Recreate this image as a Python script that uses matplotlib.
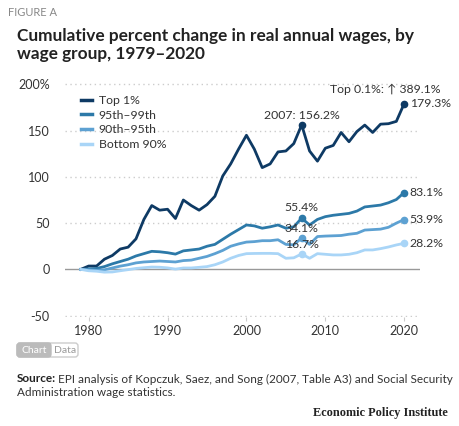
import matplotlib
matplotlib.use("Agg")
import numpy as np
from matplotlib import pyplot as plt
from matplotlib.patches import FancyBboxPatch, Rectangle
from matplotlib.transforms import IdentityTransform

years = list(range(1979, 2021))

top1 = [0, 3.6, 3.6, 11, 15, 22, 24, 33, 54, 69, 64, 65, 55, 75, 69, 64, 70, 79,
        101, 114, 130, 145, 130, 110, 114, 127, 128, 136, 156.2, 128, 117, 131,
        134, 148, 138, 149, 156, 148, 157, 157.5, 160, 179.3]
p95_99 = [0, 0.5, 1, 3, 6, 8.5, 11, 14.5, 17, 19.5, 19, 18, 16.5, 20, 21, 22, 25,
          27, 32.5, 38, 43, 48, 47, 44.5, 46, 48, 44.5, 46, 55.4, 48, 54, 57,
          58.5, 59.5, 60.5, 63, 67.5, 68.5, 69.5, 72, 75.5, 83.1]
p90_95 = [0, -0.5, -1, -0.5, 1.5, 3.5, 5, 7, 8, 8.5, 9, 8.5, 8, 9.5, 10, 12, 14,
          17, 20.5, 25, 27.5, 29.5, 30, 31, 31, 32, 27, 26.5, 34.1, 27, 35.5, 36,
          36.3, 36.6, 38, 39, 42.5, 43, 43.5, 45.5, 50, 53.9]
bottom90 = [0, -1.5, -2, -3, -2.8, -1.5, -0.3, 1, 1.8, 2.5, 2.3, 1.6, 0.3, 1.5,
            1.5, 2.2, 3, 5, 8, 12, 15, 17, 17.2, 17.3, 17.3, 17, 12, 12.5, 16.7,
            12, 17, 16.3, 15.6, 15.6, 16.3, 18, 21, 21, 22.4, 24.2, 26.4, 28.2]

series_names = ["Top 1%", "95th\u201399th", "90th\u201395th", "Bottom 90%"]
colors = ["#0e3a64", "#2c79a8", "#5da1d2", "#a9d5f7"]

y_ticks = [-50, 0, 50, 100, 150, 200]
y_tick_labels = ["-50", "0", "50", "100", "150", "200%"]
x_ticks = [1980, 1990, 2000, 2010, 2020]

W, H = 460, 426
plt.rcParams["font.family"] = ["Lato", "DejaVu Sans"]

fig = plt.figure(figsize=(W / 100, H / 100), dpi=100)
fig.patch.set_facecolor("white")


def fx(px):
    return px / W


def fy(py):
    return 1 - py / H


ax = fig.add_axes([fx(65), fy(317), fx(420) - fx(65), fy(83) - fy(317)])

all_series = [top1, p95_99, p90_95, bottom90]
for vals, name, c in zip(all_series, series_names, colors):
    ax.plot(years, vals, color=c, lw=2, label=name, zorder=3,
            solid_joinstyle="round")
    ax.plot([2007, 2020], [vals[years.index(2007)], vals[-1]], "o", color=c,
            ms=4.5, zorder=4, clip_on=False)

ax.set_xlim(1977, 2022)
ax.set_ylim(-51.5, 201.5)
ax.set_yticks(y_ticks)
ax.set_yticklabels(y_tick_labels)
ax.set_xticks(x_ticks)
for y in y_ticks:
    if y == 0:
        ax.axhline(0, color="#999999", lw=1, zorder=1)
    else:
        ax.axhline(y, color="#cccccc", lw=1, ls=(0, (1, 2.5)), zorder=1)

for s in ax.spines.values():
    s.set_visible(False)
ax.tick_params(axis="y", length=0, pad=11, labelsize=9, labelcolor="#333333")
ax.tick_params(axis="x", length=3, color="#cccccc", pad=3, labelsize=9,
               labelcolor="#333333")

leg = ax.legend(loc="upper left", bbox_to_anchor=(0.03, 0.97), frameon=False,
                fontsize=8.8, handlelength=0.9, handletextpad=0.6,
                labelspacing=0.3, borderaxespad=0)
for line in leg.get_lines():
    line.set_linewidth(2.5)
for t in leg.get_texts():
    t.set_color("#333333")

lab_kw = dict(fontsize=8.8, color="#333333", zorder=5)
# end labels
for vals in all_series:
    ax.annotate(f"{vals[-1]:.1f}%", (2020, vals[-1]), xytext=(4, 0),
                textcoords="offset points", va="center", ha="left", **lab_kw)
ax.annotate("Top 0.1%: \u2191 389.1%", (2020, top1[-1]), xytext=(-14, 10),
            textcoords="offset points", va="center", ha="center", **lab_kw)
ax.annotate("2007: 156.2%", (2007, top1[years.index(2007)]), xytext=(0, 3),
            textcoords="offset points", va="bottom", ha="center", **lab_kw)
for vals, dy in zip([p95_99, p90_95, bottom90], [7.5, 7, 6.5]):
    v = vals[years.index(2007)]
    ax.annotate(f"{v:.1f}%", (2007, v), xytext=(0, dy),
                textcoords="offset points", va="center", ha="center", **lab_kw)

# header
fig.text(fx(8), fy(13), "FIGURE A", fontsize=8, color="#888888", va="center")
fig.text(fx(17), fy(45), "Cumulative percent change in real annual wages, by\n"
         "wage group, 1979\u20132020", fontsize=12.4, fontweight="bold",
         color="#222222", va="center", linespacing=1.15)

# chart / data toggle
tr = IdentityTransform()
box = FancyBboxPatch((17, H - 357), 61, 14, boxstyle="round,pad=0,rounding_size=3",
                     transform=tr, facecolor="white", edgecolor="#cccccc", lw=1)
fig.patches.append(box)
chart_box = FancyBboxPatch((17, H - 357), 34, 14,
                           boxstyle="round,pad=0,rounding_size=3", transform=tr,
                           facecolor="#bbbbbb", edgecolor="#bbbbbb", lw=1)
fig.patches.append(chart_box)
fig.patches.append(Rectangle((45, H - 357), 6, 14, transform=tr,
                             facecolor="#bbbbbb", edgecolor="none"))
fig.text(fx(34), fy(350.5), "Chart", fontsize=7.5, color="white", ha="center",
         va="center")
fig.text(fx(65), fy(350.5), "Data", fontsize=7.5, color="#999999", ha="center",
         va="center")

# source
fig.text(fx(17), fy(379), "Source:", fontsize=8.5, fontweight="bold",
         color="#222222", va="center")
fig.text(fx(58), fy(379), "EPI analysis of Kopczuk, Saez, and Song (2007, Table A3) "
         "and Social Security", fontsize=8.5, color="#333333", va="center")
fig.text(fx(17), fy(393), "Administration wage statistics.", fontsize=8.5,
         color="#333333", va="center")
fig.text(fx(448), fy(413), "Economic Policy Institute", fontsize=8.8,
         fontweight="bold", family="Liberation Serif", color="#222222",
         ha="right", va="center")

fig.savefig("out.png", dpi=100)
